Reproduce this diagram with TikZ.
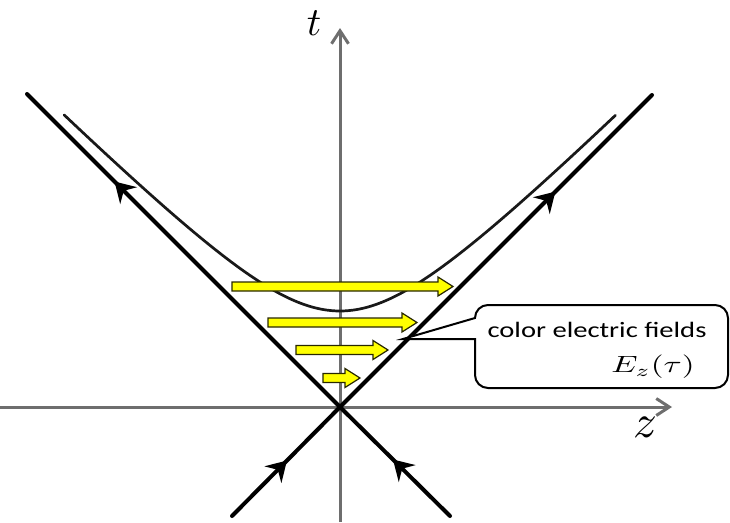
\documentclass[tikz,border=0pt]{standalone}
\usepackage{fontspec}
\newfontfamily\calfont{Carlito}
\usetikzlibrary{arrows.meta,decorations.markings}
\tikzset{
  axisline/.style={draw={rgb,255:red,110;green,110;blue,110}, line width=3pt, -{Straight Barb[length=13pt,width=17pt,line width=3pt]}},
  lightline/.style={line width=4pt, line cap=round, draw=black},
  flowmark/.style={postaction={decorate}, decoration={markings, mark=at position #1 with {\fill[black] (9,0) -- (-11,12) -- (-4,0) -- (-11,-12) -- cycle;}}},
  fieldarrow/.style={fill={rgb,255:red,255;green,255;blue,0}, draw={rgb,255:red,40;green,40;blue,0}, line width=1.2pt, line join=miter},
  callout/.style={fill=white, draw=black, line width=2pt}
}
\newcommand{\fieldarr}[5]{% y, left, headbase, tip, name
  \path[fieldarrow] (#2,#1-4.5) -- (#3,#1-4.5) -- (#3,#1-9.5) -- (#4,#1) -- (#3,#1+9.5) -- (#3,#1+4.5) -- (#2,#1+4.5) -- cycle;
  \coordinate (#5) at (#4,#1);}
\begin{document}
\begin{tikzpicture}[x=1pt,y=-1pt]
\useasboundingbox (0,0) rectangle (730,522);
\coordinate (O) at (340,407);
\coordinate (tl) at (27,94);
\coordinate (tr) at (652,95);
\coordinate (bl) at (232,516);
\coordinate (br) at (450,516);
\coordinate (zl) at (0,407);
\coordinate (zr) at (672,407);
\coordinate (tb) at (340,522);
\coordinate (tt) at (340,28);
% axes
\draw[axisline] (zl) -- (zr);
\draw[axisline] (tb) -- (tt);
\node (tlab) at (314,23) {\scalebox{4}{$t$}};
\node (zlab) at (645,427) {\scalebox{4.7}{$z$}};
% hyperbola
\draw[line width=2.7pt, draw={rgb,255:red,25;green,25;blue,25}, line cap=round, domain=-1.7776:1.7776, samples=120, smooth, variable=\u]
  plot ({340+96*sinh(\u)}, {407-96*cosh(\u)});
% light cone
\draw[lightline, flowmark=0.70] (O) -- (tl);
\draw[lightline, flowmark=0.67] (O) -- (tr);
\draw[lightline, flowmark=0.45] (bl) -- (O);
\draw[lightline, flowmark=0.46] (br) -- (O);
% field arrows
\fieldarr{286.5}{232}{438}{453}{f1}
\fieldarr{322.5}{268}{402}{417}{f2}
\fieldarr{350}{296}{373}{388}{f3}
\fieldarr{378}{323}{345}{360}{f4}
% callout
\coordinate (ptip) at (403,339);
\draw[callout] (475,339) [rounded corners=13pt] -- (475,388) -- (728,388) -- (728,305) -- (475,305) [sharp corners] -- (475,318) -- (ptip) -- cycle;
\node (ctext) at (597,330) {\scalebox{1.3}[1]{\calfont\fontsize{22}{26}\selectfont color electric fields}};
\node (etext) at (653,367) {\scalebox{3.3}[2.35]{$E_z(\tau)$}};
\end{tikzpicture}
\end{document}
